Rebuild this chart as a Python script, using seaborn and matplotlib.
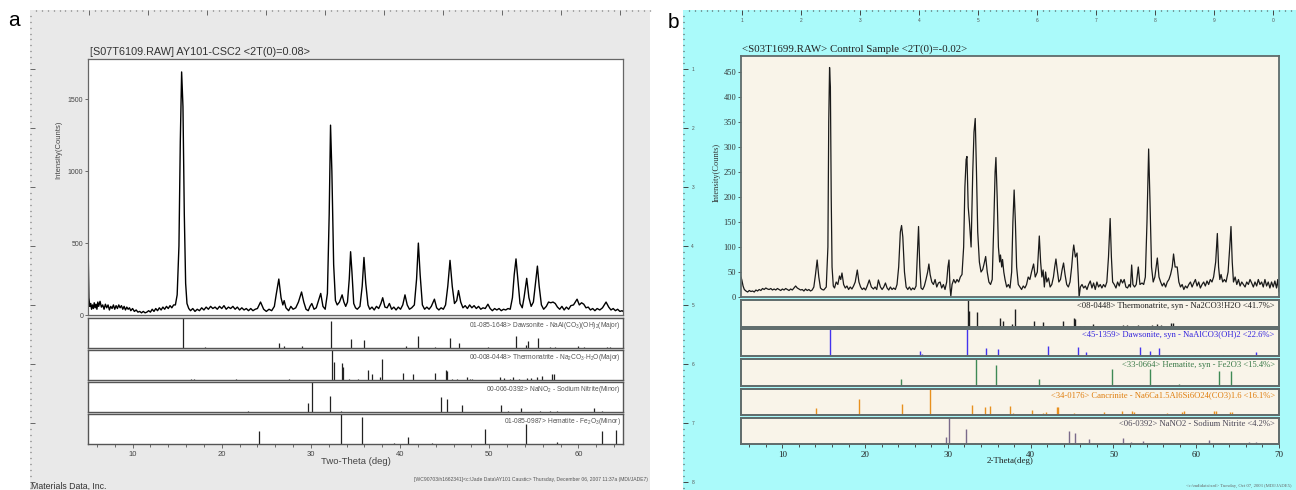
import numpy as np
import matplotlib
matplotlib.use("Agg")
from matplotlib import pyplot as plt
from matplotlib.ticker import MultipleLocator, FixedLocator
import seaborn as sns

a_pattern = [
    (5.0, 520), (5.05, 300), (5.1, 120), (5.2, 60), (5.3, 80), (5.4, 40), (5.5, 70), (5.6, 45),
    (5.7, 85), (5.8, 50), (5.9, 75), (6.0, 40), (6.1, 90), (6.2, 60), (6.35, 95), (6.5, 55),
    (6.65, 70), (6.8, 40), (6.95, 75), (7.1, 50), (7.25, 70), (7.4, 35), (7.55, 60), (7.7, 45),
    (7.85, 70), (8.0, 40), (8.15, 65), (8.3, 45), (8.45, 70), (8.6, 50), (8.75, 65), (8.9, 40),
    (9.05, 60), (9.2, 35), (9.35, 55), (9.5, 40), (9.65, 50), (9.8, 30), (10.0, 45), (10.2, 25),
    (10.4, 35), (10.6, 20), (10.8, 25), (11.0, 15), (11.2, 25), (11.4, 15), (11.6, 20), (11.8, 30),
    (12.0, 20), (12.2, 40), (12.4, 25), (12.6, 45), (12.8, 30), (13.0, 50), (13.2, 35), (13.4, 55),
    (13.6, 40), (13.8, 60), (14.0, 45), (14.2, 65), (14.4, 50), (14.6, 70), (14.8, 70), (15.0, 140),
    (15.2, 480), (15.35, 1200), (15.5, 1690), (15.65, 1450), (15.8, 700), (15.95, 220), (16.1, 80),
    (16.3, 45), (16.5, 30), (16.75, 45), (17.0, 25), (17.25, 40), (17.5, 30), (17.75, 50), (18.0, 35),
    (18.25, 55), (18.5, 40), (18.75, 60), (19.0, 45), (19.25, 55), (19.5, 40), (19.75, 60), (20.0, 45),
    (20.25, 65), (20.5, 40), (20.75, 55), (21.0, 45), (21.25, 60), (21.5, 40), (21.75, 55), (22.0, 35),
    (22.25, 50), (22.5, 35), (22.75, 45), (23.0, 30), (23.25, 45), (23.5, 30), (23.75, 40), (24.0, 45),
    (24.35, 90), (24.7, 40), (25.0, 25), (25.3, 40), (25.6, 30), (25.9, 60), (26.1, 140), (26.4, 250),
    (26.65, 120), (26.85, 70), (27.0, 100), (27.2, 50), (27.5, 30), (27.75, 60), (28.0, 40), (28.3, 50),
    (28.6, 90), (28.95, 160), (29.2, 90), (29.45, 40), (29.7, 30), (29.9, 60), (30.1, 80), (30.35, 40),
    (30.6, 50), (30.8, 90), (31.1, 150), (31.35, 60), (31.6, 40), (31.85, 150), (32.05, 700),
    (32.2, 1320), (32.35, 1000), (32.55, 350), (32.75, 100), (32.95, 70), (33.2, 90), (33.5, 140),
    (33.7, 90), (33.9, 60), (34.1, 90), (34.3, 250), (34.45, 440), (34.6, 300), (34.8, 80), (35.0, 50),
    (35.2, 40), (35.5, 60), (35.75, 200), (35.95, 400), (36.15, 220), (36.4, 70), (36.6, 40),
    (36.85, 55), (37.1, 35), (37.35, 60), (37.6, 45), (37.85, 80), (38.05, 120), (38.3, 55),
    (38.55, 50), (38.8, 80), (39.05, 40), (39.3, 55), (39.55, 35), (39.8, 55), (40.05, 40), (40.3, 70),
    (40.55, 140), (40.8, 70), (41.05, 40), (41.3, 50), (41.6, 70), (41.85, 250), (42.05, 500),
    (42.25, 280), (42.5, 70), (42.75, 40), (43.0, 55), (43.25, 40), (43.5, 60), (43.85, 110),
    (44.1, 50), (44.35, 35), (44.6, 50), (44.85, 40), (45.1, 70), (45.35, 200), (45.6, 380),
    (45.85, 200), (46.1, 80), (46.35, 100), (46.55, 170), (46.8, 90), (47.05, 50), (47.3, 65),
    (47.55, 45), (47.8, 70), (48.05, 50), (48.3, 65), (48.55, 45), (48.8, 60), (49.05, 40), (49.3, 50),
    (49.55, 45), (49.85, 75), (50.1, 45), (50.35, 30), (50.6, 45), (50.85, 35), (51.1, 45), (51.35, 30),
    (51.6, 40), (51.85, 35), (52.1, 45), (52.35, 40), (52.6, 120), (52.8, 280), (53.0, 390),
    (53.2, 250), (53.45, 80), (53.7, 50), (53.9, 120), (54.2, 255), (54.45, 120), (54.7, 60),
    (54.95, 90), (55.2, 230), (55.4, 340), (55.6, 200), (55.85, 70), (56.1, 40), (56.4, 60),
    (56.65, 90), (56.9, 85), (57.15, 90), (57.4, 80), (57.65, 55), (57.9, 40), (58.15, 60), (58.4, 35),
    (58.65, 55), (58.9, 40), (59.15, 65), (59.45, 70), (59.85, 110), (60.1, 70), (60.35, 85),
    (60.6, 75), (60.85, 50), (61.1, 55), (61.35, 35), (61.6, 45), (61.85, 30), (62.1, 45), (62.4, 35),
    (62.7, 50), (63.1, 90), (63.4, 55), (63.65, 35), (63.9, 45), (64.15, 30), (64.4, 40), (64.65, 25),
    (64.9, 30), (65.0, 25),
]

# reference sticks, panel a (position, relative intensity %)
a_dawsonite_pos = [15.65, 18.1, 26.44, 26.96, 28.95, 32.3, 34.5, 35.96, 40.67, 42.06, 43.86, 45.6,
                   46.6, 49.85, 53.03, 54.1, 54.4, 55.47, 56.85, 57.4, 60.0, 60.6, 63.2, 63.5]
a_dawsonite_int = [100, 3, 17, 8, 7, 91, 30, 28, 8, 41, 5, 34, 16, 3, 41, 10, 23, 34, 5, 4, 6, 4, 5, 3]

a_thermo_pos = [16.6, 16.85, 21.6, 27.5, 32.39, 32.58, 33.48, 33.6, 34.27, 35.3, 36.37, 36.8, 37.75,
                37.98, 40.34, 41.5, 43.9, 45.14, 45.3, 45.8, 46.35, 47.5, 47.8, 48.1, 51.15, 51.6,
                52.3, 52.65, 53.3, 54.2, 54.7, 55.3, 55.9, 57.0, 57.3]
a_thermo_int = [5, 5, 5, 2, 100, 60, 57, 45, 5, 3, 33, 21, 10, 70, 24, 19, 25, 33, 30, 5, 4, 10, 4, 4,
                10, 8, 5, 10, 4, 6, 8, 10, 12, 20, 20]

a_nitrite_pos = [22.96, 29.7, 30.08, 32.13, 33.33, 44.57, 45.28, 46.9, 51.3, 52.1, 53.6, 55.7, 56.85,
                 57.6, 61.7, 62.6]
a_nitrite_int = [3, 30, 100, 55, 5, 49, 42, 22, 25, 5, 12, 4, 3, 2, 15, 2]

a_hematite_pos = [24.2, 33.33, 35.7, 39.3, 40.9, 43.6, 49.55, 54.16, 57.6, 62.6, 64.16]
a_hematite_int = [45, 100, 90, 3, 25, 2, 50, 68, 7, 45, 48]

a_phase_labels = [
    r"01-085-1648> Dawsonite - NaAl(CO$_3$)(OH)$_2$(Major)",
    r"00-008-0448> Thermonatrite - Na$_2$CO$_3$$\cdot$H$_2$O(Major)",
    r"00-006-0392> NaNO$_2$ - Sodium Nitrite(Minor)",
    r"01-085-0987> Hematite - Fe$_2$O$_3$(Minor)",
]

# ---------------- panel b : measured pattern
b_pattern = [
    (5.0, 40), (5.1, 34), (5.25, 22), (5.4, 15), (5.6, 12), (5.8, 10), (6.0, 13), (6.2, 11), (6.4, 12),
    (6.6, 10), (6.8, 14), (7.0, 12), (7.2, 15), (7.4, 13), (7.6, 17), (7.8, 15), (8.0, 18), (8.2, 16),
    (8.4, 15), (8.6, 17), (8.8, 14), (9.0, 16), (9.2, 14), (9.4, 17), (9.6, 15), (9.8, 13), (10.0, 16),
    (10.2, 14), (10.4, 17), (10.6, 15), (10.8, 13), (11.0, 16), (11.2, 14), (11.4, 18), (11.6, 22),
    (11.8, 18), (12.0, 16), (12.2, 14), (12.4, 15), (12.6, 12), (12.8, 16), (13.0, 13), (13.2, 15),
    (13.4, 12), (13.6, 14), (13.8, 20), (14.0, 45), (14.2, 74), (14.4, 40), (14.6, 18), (14.8, 15),
    (15.0, 14), (15.3, 20), (15.5, 100), (15.6, 350), (15.7, 459), (15.8, 420), (15.9, 200),
    (16.0, 60), (16.15, 22), (16.3, 18), (16.5, 30), (16.7, 25), (16.9, 42), (17.05, 35), (17.2, 48),
    (17.4, 25), (17.6, 18), (17.8, 22), (18.0, 15), (18.2, 20), (18.4, 16), (18.6, 22), (18.8, 30),
    (19.05, 54), (19.25, 30), (19.45, 20), (19.65, 15), (19.85, 18), (20.05, 14), (20.25, 22),
    (20.5, 34), (20.75, 20), (21.0, 16), (21.2, 20), (21.4, 15), (21.6, 34), (21.85, 20), (22.05, 15),
    (22.25, 20), (22.45, 28), (22.65, 18), (22.85, 14), (23.05, 20), (23.25, 15), (23.45, 18),
    (23.65, 15), (23.85, 25), (24.05, 60), (24.25, 130), (24.4, 143), (24.55, 120), (24.75, 50),
    (24.95, 20), (25.15, 15), (25.35, 20), (25.55, 14), (25.75, 18), (25.95, 15), (26.15, 22),
    (26.3, 80), (26.45, 141), (26.6, 60), (26.75, 18), (26.95, 15), (27.15, 22), (27.35, 35),
    (27.55, 50), (27.7, 66), (27.85, 45), (28.05, 30), (28.25, 25), (28.45, 35), (28.65, 20),
    (28.85, 28), (29.05, 30), (29.25, 18), (29.45, 25), (29.65, 15), (29.85, 30), (30.0, 60),
    (30.13, 74), (30.25, 20), (30.35, 2), (30.5, 25), (30.7, 35), (30.9, 28), (31.1, 35), (31.3, 30),
    (31.5, 40), (31.7, 45), (31.9, 100), (32.05, 220), (32.2, 275), (32.3, 281), (32.45, 180),
    (32.6, 150), (32.8, 100), (33.0, 250), (33.15, 330), (33.3, 357), (33.45, 250), (33.6, 130),
    (33.8, 70), (34.0, 50), (34.2, 55), (34.35, 65), (34.56, 81), (34.75, 50), (34.95, 30),
    (35.15, 25), (35.35, 35), (35.55, 150), (35.7, 250), (35.8, 279), (35.95, 200), (36.1, 100),
    (36.25, 70), (36.35, 84), (36.5, 60), (36.6, 75), (36.75, 50), (36.9, 35), (37.1, 20), (37.3, 25),
    (37.5, 18), (37.7, 50), (37.85, 150), (38.0, 214), (38.15, 150), (38.3, 60), (38.5, 25),
    (38.7, 20), (38.9, 15), (39.1, 22), (39.3, 18), (39.5, 25), (39.7, 40), (39.9, 35), (40.1, 50),
    (40.35, 66), (40.55, 40), (40.8, 50), (41.04, 122), (41.2, 70), (41.35, 40), (41.5, 54),
    (41.65, 20), (41.8, 50), (41.95, 30), (42.15, 38), (42.35, 20), (42.55, 25), (42.75, 40),
    (42.9, 60), (43.05, 76), (43.2, 55), (43.4, 30), (43.6, 35), (43.8, 55), (43.97, 68), (44.15, 45),
    (44.35, 25), (44.55, 20), (44.75, 30), (44.95, 60), (45.1, 90), (45.2, 104), (45.4, 80),
    (45.6, 88), (45.75, 40), (45.85, 0), (46.0, 20), (46.2, 25), (46.4, 18), (46.6, 22), (46.8, 15),
    (47.0, 25), (47.2, 32), (47.4, 18), (47.6, 28), (47.8, 15), (48.0, 30), (48.2, 20), (48.4, 25),
    (48.6, 18), (48.8, 25), (49.0, 20), (49.2, 30), (49.4, 80), (49.6, 157), (49.75, 80), (49.9, 30),
    (50.1, 25), (50.3, 18), (50.5, 30), (50.7, 22), (50.9, 35), (51.1, 28), (51.3, 35), (51.5, 20),
    (51.7, 18), (51.9, 25), (52.05, 20), (52.2, 64), (52.35, 25), (52.55, 20), (52.75, 25),
    (53.0, 60), (53.2, 25), (53.45, 28), (53.65, 25), (53.85, 40), (54.05, 150), (54.25, 296),
    (54.4, 200), (54.6, 60), (54.8, 30), (55.0, 40), (55.3, 78), (55.5, 40), (55.7, 30), (55.9, 22),
    (56.1, 28), (56.3, 20), (56.5, 30), (56.7, 35), (56.9, 45), (57.1, 60), (57.26, 86), (57.45, 60),
    (57.7, 60), (57.9, 30), (58.1, 20), (58.3, 25), (58.5, 15), (58.7, 22), (58.9, 18), (59.1, 25),
    (59.3, 30), (59.5, 20), (59.7, 28), (59.9, 35), (60.1, 22), (60.3, 30), (60.5, 18), (60.7, 25),
    (60.9, 30), (61.1, 22), (61.3, 32), (61.5, 25), (61.7, 35), (61.9, 30), (62.1, 40), (62.35, 70),
    (62.55, 127), (62.7, 60), (62.85, 35), (63.0, 45), (63.2, 30), (63.4, 35), (63.6, 30), (63.85, 50),
    (64.05, 100), (64.2, 141), (64.35, 70), (64.5, 30), (64.7, 40), (64.9, 25), (65.1, 35), (65.3, 22),
    (65.5, 30), (65.7, 25), (65.9, 20), (66.1, 30), (66.3, 25), (66.5, 35), (66.7, 28), (66.9, 20),
    (67.1, 30), (67.3, 22), (67.5, 35), (67.7, 25), (67.9, 30), (68.1, 20), (68.3, 35), (68.5, 22),
    (68.7, 30), (68.9, 18), (69.1, 30), (69.3, 20), (69.5, 32), (69.7, 18), (69.85, 35), (70.0, 10),
]

b_thermo_pos = [16.6, 16.85, 21.6, 27.5, 32.4, 32.6, 33.55, 34.1, 36.3, 36.7, 37.8, 38.05, 40.35,
                41.45, 43.9, 45.2, 45.4, 45.9, 46.4, 47.5, 48.0, 51.2, 51.6, 52.4, 53.0, 54.0, 54.7,
                55.3, 55.8, 56.9, 57.2]
b_thermo_int = [5, 5, 3, 2, 100, 60, 55, 5, 33, 23, 10, 68, 24, 18, 22, 33, 28, 5, 4, 10, 5, 8, 6, 5,
                8, 5, 8, 10, 8, 15, 15]

b_dawsonite_pos = [15.8, 26.6, 26.9, 29.1, 32.3, 34.6, 36.05, 40.75, 42.15, 43.9, 45.7, 46.7, 48.1,
                   49.9, 53.16, 54.4, 55.5, 57.2, 57.8, 59.9, 60.4, 63.2, 67.25, 69.75]
b_dawsonite_int = [100, 20, 8, 5, 100, 30, 27, 5, 37, 3, 33, 15, 3, 3, 33, 20, 30, 5, 5, 5, 4, 5, 15, 3]

b_hematite_pos = [24.37, 33.4, 35.85, 39.5, 41.0, 43.6, 49.8, 54.36, 56.6, 57.9, 62.7, 64.25, 69.8]
b_hematite_int = [27, 100, 78, 3, 27, 3, 62, 62, 3, 8, 55, 55, 3]

b_cancrinite_pos = [8.2, 14.1, 19.2, 21.6, 23.9, 24.45, 27.88, 29.6, 30.1, 32.9, 34.5, 35.1, 36.1,
                    37.45, 37.9, 40.15, 41.5, 41.9, 43.2, 43.3, 45.2, 47.5, 48.8, 51.0, 52.3, 52.45,
                    54.2, 55.4, 56.5, 58.3, 58.5, 59.1, 62.2, 62.4, 64.1, 64.3, 66.3]
b_cancrinite_int = [3, 27, 62, 5, 3, 43, 100, 3, 5, 40, 31, 34, 4, 34, 8, 19, 8, 10, 31, 30, 8, 5, 12,
                    16, 14, 12, 5, 5, 6, 10, 15, 3, 15, 15, 12, 12, 5]

b_nitrite_pos = [23.0, 29.77, 30.13, 32.14, 33.3, 44.6, 45.3, 47.0, 51.2, 52.1, 53.6, 55.8, 61.6,
                 66.4, 67.2]
b_nitrite_int = [2, 27, 100, 56, 5, 50, 44, 21, 24, 8, 10, 3, 14, 8, 8]

b_phase_labels = [
    "<08-0448> Thermonatrite, syn - Na2CO3!H2O <41.7%>",
    "<45-1359> Dawsonite, syn - NaAlCO3(OH)2 <22.6%>",
    "<33-0664> Hematite, syn - Fe2O3 <15.4%>",
    "<34-0176> Cancrinite - Na6Ca1.5Al6Si6O24(CO3)1.6 <16.1%>",
    "<06-0392> NaNO2 - Sodium Nitrite <4.2%>",
]
b_stick_colors = ["#1e1e1e", "#4433ee", "#3f8a55", "#e8901e", "#7a6a8a"]
b_label_colors = ["#222222", "#3322dd", "#3a7a48", "#e07f10", "#4c4858"]

W, H = 1296, 490
sns.set_style("white")
plt.rcParams["font.family"] = ["Liberation Sans", "DejaVu Sans"]
plt.rcParams["mathtext.fontset"] = "custom"
plt.rcParams["mathtext.rm"] = "Liberation Sans"
plt.rcParams["mathtext.it"] = "Liberation Sans"

fig = plt.figure(figsize=(W / 100, H / 100), dpi=100)
fig.patch.set_facecolor("white")


def px_axes(x0, y0, x1, y1):
    return fig.add_axes([x0 / W, 1 - y1 / H, (x1 - x0) / W, (y1 - y0) / H])


def ruler(ax, w, h, color, labels=False):
    # dotted page ruler along top and left edge of a frame
    ax.set_xlim(0, w)
    ax.set_ylim(h, 0)
    for s in ax.spines.values():
        s.set_visible(False)
    ax.xaxis.set_ticks_position("top")
    ax.yaxis.set_ticks_position("left")
    ax.xaxis.set_major_locator(FixedLocator(np.arange(59, w, 59)))
    ax.xaxis.set_minor_locator(FixedLocator(np.arange(5.9, w, 5.9)))
    ax.yaxis.set_major_locator(FixedLocator(np.arange(59, h, 59)))
    ax.yaxis.set_minor_locator(FixedLocator(np.arange(5.9, h, 5.9)))
    ax.tick_params(which="major", direction="in", length=3.5, width=0.7, color=color)
    ax.tick_params(which="minor", direction="in", length=1.0, width=0.9, color=color)
    if labels:
        xl = [str(i % 10) for i in range(1, len(np.arange(59, w, 59)) + 1)]
        ax.set_xticklabels(xl)
        ax.set_yticklabels([str(i) for i in range(1, len(np.arange(59, h, 59)) + 1)])
        ax.tick_params(which="major", labelsize=3.5, labelcolor="#555555", pad=-9)
        ax.tick_params(axis="y", pad=-8)
    else:
        ax.set_xticklabels([])
        ax.set_yticklabels([])


def stick_panel(ax, pos, ints, color, lw, xlim):
    ax.vlines(pos, 0, ints, color=color, linewidth=lw)
    ax.set_xlim(*xlim)
    ax.set_ylim(0, 100)
    ax.set_yticks([])


# ============================ panel a
fa = px_axes(30, 10, 650, 490)
fa.set_facecolor("#e9e9e9")
ruler(fa, 620, 480, "#666666")

ma = px_axes(88, 59, 623, 315)
ma.set_facecolor("white")
sns.lineplot(x=[p[0] for p in a_pattern], y=[p[1] for p in a_pattern], ax=ma,
             color="black", linewidth=1.0, estimator=None, sort=False)
ma.set_xlim(5, 65)
ma.set_ylim(0, 1780)
ma.set_xticks([])
ma.set_yticks([0, 500, 1000, 1500])
ma.tick_params(axis="y", left=True, length=2, width=0.6, color="#555555", labelsize=5,
               labelcolor="#444444", pad=1.5)
ma.set_xlabel("")
ma.set_ylabel("")
for s in ma.spines.values():
    s.set_color("#666666")
    s.set_linewidth(0.9)

a_sticks = [(a_dawsonite_pos, a_dawsonite_int), (a_thermo_pos, a_thermo_int),
            (a_nitrite_pos, a_nitrite_int), (a_hematite_pos, a_hematite_int)]
a_rows = [(318, 348), (350, 380), (382, 412), (414, 444)]
for i, ((pos, ints), (y0, y1)) in enumerate(zip(a_sticks, a_rows)):
    ax = px_axes(88, y0, 623, y1)
    ax.set_facecolor("white")
    stick_panel(ax, pos, ints, "#222222", 0.9, (5, 65))
    ax.text(0.996, 0.76, a_phase_labels[i], transform=ax.transAxes, ha="right", va="center",
            fontsize=4.8, color="#555555")
    for s in ax.spines.values():
        s.set_color("#555555")
        s.set_linewidth(1.0)
    if i == len(a_rows) - 1:
        ax.xaxis.set_major_locator(MultipleLocator(10))
        ax.xaxis.set_minor_locator(MultipleLocator(2))
        ax.tick_params(axis="x", which="major", bottom=True, length=3, width=0.6, color="#555555",
                       labelsize=5.5, labelcolor="#444444", pad=2)
        ax.tick_params(axis="x", which="minor", bottom=True, length=1.8, width=0.6, color="#555555")
    else:
        ax.set_xticks([])

fig.text(90 / W, 1 - 52 / H, "[S07T6109.RAW] AY101-CSC2 <2T(0)=0.08>", fontsize=7.8,
         color="#333333", ha="left", va="center")
fig.text(59 / W, 1 - 150 / H, "Intensity(Counts)", fontsize=5.5, color="#444444",
         rotation=90, ha="center", va="center")
fig.text(356 / W, 1 - 461 / H, "Two-Theta (deg)", fontsize=6.8, color="#444444",
         ha="center", va="center")
fig.text(31 / W, 1 - 486 / H, "Materials Data, Inc.", fontsize=6.3, color="#333333",
         ha="left", va="center")
fig.text(648 / W, 1 - 479 / H,
         r"[WC90703/h1662341]<c:\Jade Data\AY101 Caustic> Thursday, December 06, 2007 11:37a (MDI/JADE7)",
         fontsize=3.6, color="#555555", ha="right", va="center")
fig.text(8 / W, 1 - 20 / H, "a", fontsize=15, color="black", ha="left", va="center")

# ============================ panel b
serif = ["Liberation Serif", "DejaVu Serif"]
fb = px_axes(683, 10, 1296, 490)
fb.set_facecolor("#aafafa")
ruler(fb, 613, 480, "#444444", labels=True)

mb = px_axes(741, 56, 1279, 297)
mb.set_facecolor("#f9f4e9")
sns.lineplot(x=[p[0] for p in b_pattern], y=[p[1] for p in b_pattern], ax=mb,
             color="#1a1a1a", linewidth=0.9, estimator=None, sort=False)
mb.set_xlim(5, 70)
mb.set_ylim(0, 482)
mb.set_xticks([])
mb.set_yticks(np.arange(0, 451, 50))
mb.tick_params(axis="y", left=True, length=2, width=0.6, color="#444444", labelsize=6,
               labelcolor="#333333", pad=1.5)
for lab in mb.get_yticklabels():
    lab.set_family(serif)
mb.set_xlabel("")
mb.set_ylabel("")
for s in mb.spines.values():
    s.set_color("#5f6b6b")
    s.set_linewidth(1.3)

b_sticks = [(b_thermo_pos, b_thermo_int), (b_dawsonite_pos, b_dawsonite_int),
            (b_hematite_pos, b_hematite_int), (b_cancrinite_pos, b_cancrinite_int),
            (b_nitrite_pos, b_nitrite_int)]
b_rows = [(300, 327), (329, 356), (359, 386), (389, 415), (418, 444)]
for i, ((pos, ints), (y0, y1)) in enumerate(zip(b_sticks, b_rows)):
    ax = px_axes(741, y0, 1279, y1)
    ax.set_facecolor("#f9f4e9")
    stick_panel(ax, pos, ints, b_stick_colors[i], 1.0, (5, 70))
    ax.text(0.992, 0.76, b_phase_labels[i], transform=ax.transAxes, ha="right", va="center",
            fontsize=6.2, color=b_label_colors[i], family=serif)
    for s in ax.spines.values():
        s.set_color("#5f6b6b")
        s.set_linewidth(1.4)
    if i == len(b_rows) - 1:
        ax.xaxis.set_major_locator(MultipleLocator(10))
        ax.xaxis.set_minor_locator(MultipleLocator(2))
        ax.tick_params(axis="x", which="major", bottom=True, length=3, width=0.6, color="#333333",
                       labelsize=6.5, labelcolor="#222222", pad=2)
        ax.tick_params(axis="x", which="minor", bottom=True, length=1.8, width=0.6, color="#333333")
        for lab in ax.get_xticklabels():
            lab.set_family(serif)
    else:
        ax.set_xticks([])

fig.text(742 / W, 1 - 49 / H, "<S03T1699.RAW> Control Sample <2T(0)=-0.02>", fontsize=7.8,
         color="#222222", ha="left", va="center", family=serif)
fig.text(717 / W, 1 - 172 / H, "Intensity(Counts)", fontsize=6, color="#333333",
         rotation=90, ha="center", va="center", family=serif)
fig.text(1010 / W, 1 - 461 / H, "2-Theta(deg)", fontsize=6.5, color="#222222",
         ha="center", va="center", family=serif)
fig.text(1186 / W, 1 - 486 / H, r"<c:\mdidata\xrd> Tuesday, Oct 07, 2003 (MDI/JADE5)",
         fontsize=3.4, color="#666666", ha="left", va="center", family=serif)
fig.text(668 / W, 1 - 22 / H, "b", fontsize=15, color="black", ha="left", va="center")

fig.savefig("out.png", dpi=100, facecolor="white")
